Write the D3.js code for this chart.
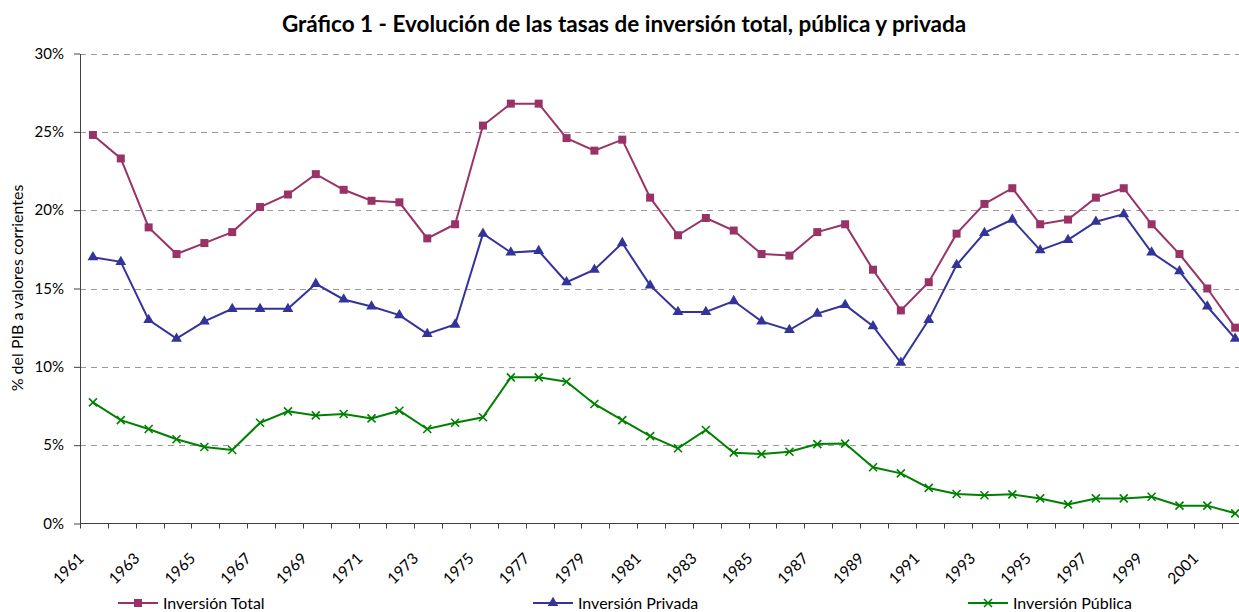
<!DOCTYPE html>
<html>
<head>
<meta charset="utf-8">
<script src="https://cdn.jsdelivr.net/npm/d3@7"></script>
<style>
  body { margin: 0; background: #fff; }
  svg { display: block; font-family: Lato, "Open Sans", sans-serif; }
</style>
</head>
<body>
<svg width="1239" height="612"></svg>
<script>
const years = [1961, 1962, 1963, 1964, 1965, 1966, 1967, 1968, 1969, 1970,
  1971, 1972, 1973, 1974, 1975, 1976, 1977, 1978, 1979, 1980,
  1981, 1982, 1983, 1984, 1985, 1986, 1987, 1988, 1989, 1990,
  1991, 1992, 1993, 1994, 1995, 1996, 1997, 1998, 1999, 2000,
  2001, 2002];

const totalValues = [24.8, 23.3, 18.9, 17.2, 17.9, 18.6, 20.2, 21.0, 22.3, 21.3,
  20.6, 20.5, 18.2, 19.1, 25.4, 26.8, 26.8, 24.6, 23.8, 24.5,
  20.8, 18.4, 19.5, 18.7, 17.2, 17.1, 18.6, 19.1, 16.2, 13.6,
  15.4, 18.5, 20.4, 21.4, 19.1, 19.4, 20.8, 21.4, 19.1, 17.2,
  15.0, 12.5];

const privValues = [17.0, 16.7, 13.0, 11.8, 12.9, 13.7, 13.7, 13.7, 15.3, 14.3,
  13.85, 13.3, 12.1, 12.7, 18.5, 17.3, 17.4, 15.4, 16.2, 17.9,
  15.2, 13.5, 13.5, 14.2, 12.9, 12.35, 13.4, 13.95, 12.6, 10.26,
  13.0, 16.5, 18.55, 19.4, 17.45, 18.1, 19.26, 19.75, 17.3, 16.1,
  13.85, 11.8];

const pubValues = [7.73, 6.6, 6.03, 5.38, 4.88, 4.69, 6.43, 7.16, 6.9, 6.99,
  6.71, 7.2, 6.03, 6.43, 6.78, 9.33, 9.33, 9.05, 7.63, 6.6,
  5.58, 4.8, 5.97, 4.52, 4.43, 4.58, 5.07, 5.1, 3.59, 3.2,
  2.27, 1.88, 1.8, 1.86, 1.6, 1.22, 1.6, 1.6, 1.71, 1.14,
  1.14, 0.65];

const yTicks = [0, 5, 10, 15, 20, 25, 30];
const labelYears = years.filter((d, i) => i % 2 === 0);

const series = [
  { name: 'Inversión Total', values: totalValues, color: '#993366', marker: 'square' },
  { name: 'Inversión Privada', values: privValues, color: '#333399', marker: 'triangle' },
  { name: 'Inversión Pública', values: pubValues, color: '#008000', marker: 'cross' }
];

const svg = d3.select('svg');
const plotLeft = 80, plotTop = 53.5, plotBottom = 523.5, step = 27.86;
const plotRight = plotLeft + years.length * step; // plot runs past the picture edge

const x = d3.scaleBand().domain(years).range([plotLeft, plotRight]);
const y = d3.scaleLinear().domain([0, 30]).range([plotBottom, plotTop]);
const cx = d => x(d) + x.bandwidth() / 2 - 1;

// title
svg.append('text')
  .attr('x', 624).attr('y', 32)
  .attr('text-anchor', 'middle')
  .attr('font-weight', 'bold')
  .attr('font-size', 22.5)
  .text('Gráfico 1 - Evolución de las tasas de inversión total, pública y privada');

// grid
svg.append('g')
  .selectAll('line')
  .data(yTicks.filter(d => d > 0))
  .enter()
  .append('line')
  .attr('x1', plotLeft).attr('x2', 1239)
  .attr('y1', d => Math.round(y(d)) + 0.5)
  .attr('y2', d => Math.round(y(d)) + 0.5)
  .attr('stroke', '#9a9a9a')
  .attr('stroke-dasharray', '6,5');

// y axis
const yAxis = svg.append('g')
  .attr('transform', `translate(${plotLeft},0)`)
  .call(d3.axisLeft(y).tickValues(yTicks).tickSize(6).tickSizeOuter(0).tickPadding(10).tickFormat(d => d + '%'));
yAxis.selectAll('path, line').attr('stroke', '#404040');
yAxis.selectAll('text').attr('font-size', 15).attr('fill', '#000').attr('font-family', 'Lato, sans-serif');

svg.append('text')
  .attr('transform', 'translate(23,288) rotate(-90)')
  .attr('text-anchor', 'middle')
  .attr('font-size', 16)
  .text('% del PIB a valores corrientes');

// x axis
const xg = svg.append('g');
xg.append('line')
  .attr('x1', plotLeft).attr('x2', 1239)
  .attr('y1', plotBottom).attr('y2', plotBottom)
  .attr('stroke', '#404040');
xg.selectAll('.tick')
  .data(years)
  .enter()
  .append('line')
  .attr('x1', d => Math.round(x(d)) + 0.5)
  .attr('x2', d => Math.round(x(d)) + 0.5)
  .attr('y1', plotBottom).attr('y2', plotBottom + 5)
  .attr('stroke', '#404040');
xg.selectAll('.lbl')
  .data(labelYears)
  .enter()
  .append('text')
  .attr('transform', d => `translate(${cx(d) - 8},${plotBottom + 36}) rotate(-45)`)
  .attr('text-anchor', 'end')
  .attr('font-size', 15.5)
  .text(d => d);

// series
const line = d3.line().x((d, i) => cx(years[i])).y(d => y(d));

function drawMarker(g, type, color) {
  if (type === 'square') {
    g.append('rect').attr('x', -4).attr('y', -4).attr('width', 8).attr('height', 8)
      .attr('fill', color);
  } else if (type === 'triangle') {
    g.append('path').attr('d', d3.symbol(d3.symbolTriangle, 50)())
      .attr('fill', color);
  } else {
    g.append('path').attr('d', 'M-4,-4L4,4M-4,4L4,-4')
      .attr('stroke', color).attr('stroke-width', 1.6).attr('fill', 'none');
  }
}

series.forEach(s => {
  const g = svg.append('g');
  g.append('path')
    .datum(s.values)
    .attr('d', line)
    .attr('fill', 'none')
    .attr('stroke', s.color)
    .attr('stroke-width', 2);
  g.selectAll('.m')
    .data(s.values)
    .enter()
    .append('g')
    .attr('transform', (d, i) => `translate(${cx(years[i])},${y(d)})`)
    .each(function () { drawMarker(d3.select(this), s.marker, s.color); });
});

// legend
const legendX = [118, 533, 968];
series.forEach((s, i) => {
  const g = svg.append('g').attr('transform', `translate(${legendX[i]},603)`);
  g.append('line').attr('x1', 0).attr('x2', 40).attr('stroke', s.color).attr('stroke-width', 2);
  const m = g.append('g').attr('transform', 'translate(20,0)');
  drawMarker(m, s.marker, s.color);
  g.append('text')
    .attr('x', 45).attr('y', 5.5)
    .attr('font-size', 16)
    .text(s.name);
});
</script>
</body>
</html>
